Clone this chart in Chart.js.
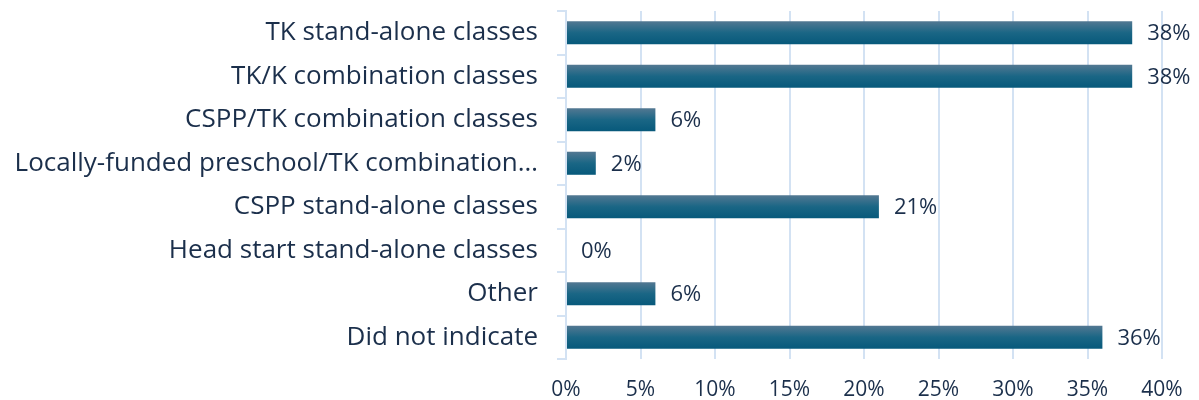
<!DOCTYPE html>
<html>
<head>
<meta charset="utf-8">
<script src="https://cdn.jsdelivr.net/npm/chart.js@4/dist/chart.umd.min.js"></script>
<style>
  html, body { margin: 0; padding: 0; background: #fff; }
  #wrap { width: 1199px; height: 400px; }
</style>
</head>
<body>
<div id="wrap"><canvas id="chart"></canvas></div>
<script>
const categories = [
  "TK stand-alone classes",
  "TK/K combination classes",
  "CSPP/TK combination classes",
  "Locally-funded preschool/TK combination…",
  "CSPP stand-alone classes",
  "Head start stand-alone classes",
  "Other",
  "Did not indicate"
];
const percentages = [38, 38, 6, 2, 21, 0, 6, 36];
const xTicks = [0, 5, 10, 15, 20, 25, 30, 35, 40];

const FONT = "'Open Sans', 'Noto Sans', sans-serif";
const TEXT = "#1b2f4b";
const GRID = "#d3e2f3";
const BAR_HALF = 11.5;

// each bar gets its own top-to-bottom gradient
function barFill(context) {
  const chart = context.chart;
  const yScale = chart.scales.y;
  if (!chart.chartArea || !yScale) return "#0b5a7c";
  const cy = yScale.getPixelForValue(context.dataIndex);
  const g = chart.ctx.createLinearGradient(0, cy - BAR_HALF, 0, cy + BAR_HALF);
  g.addColorStop(0, "#537892");
  g.addColorStop(0.5, "#1a6685");
  g.addColorStop(1, "#07597b");
  return g;
}

// value labels to the right of each bar
const valueLabels = {
  id: "valueLabels",
  afterDatasetsDraw(chart) {
    const ctx = chart.ctx;
    const meta = chart.getDatasetMeta(0);
    ctx.save();
    ctx.font = "22px " + FONT;
    ctx.fillStyle = TEXT;
    ctx.textAlign = "left";
    ctx.textBaseline = "middle";
    meta.data.forEach((bar, i) => {
      ctx.fillText(percentages[i] + "%", bar.x + 15, bar.y + 1);
    });
    ctx.restore();
  }
};

new Chart(document.getElementById("chart"), {
  type: "bar",
  data: {
    labels: categories,
    datasets: [{
      data: percentages,
      backgroundColor: barFill,
      borderWidth: 0,
      barPercentage: 0.53,
      categoryPercentage: 1
    }]
  },
  options: {
    indexAxis: "y",
    responsive: true,
    maintainAspectRatio: false,
    animation: false,
    layout: { padding: { top: 11, right: 37, bottom: 0, left: 0 } },
    plugins: {
      legend: { display: false },
      tooltip: { enabled: false }
    },
    scales: {
      x: {
        min: 0,
        max: 40,
        afterBuildTicks(axis) {
          axis.ticks = xTicks.map(v => ({ value: v }));
        },
        afterFit(axis) {
          axis.height = 41;
          axis.paddingLeft = 0;
          axis.paddingRight = 0;
        },
        grid: { color: GRID, lineWidth: 2, drawTicks: false },
        border: { display: false },
        ticks: {
          color: TEXT,
          font: { size: 21, family: FONT },
          padding: 18,
          callback: v => v + "%"
        }
      },
      y: {
        afterFit(axis) {
          axis.width = 566;
          axis.paddingTop = 0;
          axis.paddingBottom = 0;
        },
        grid: { color: GRID, lineWidth: 2, drawOnChartArea: false, tickLength: 9 },
        border: { color: GRID, width: 2 },
        ticks: {
          color: TEXT,
          font: { size: 26, family: FONT },
          padding: 19
        }
      }
    }
  },
  plugins: [valueLabels]
});
</script>
</body>
</html>
